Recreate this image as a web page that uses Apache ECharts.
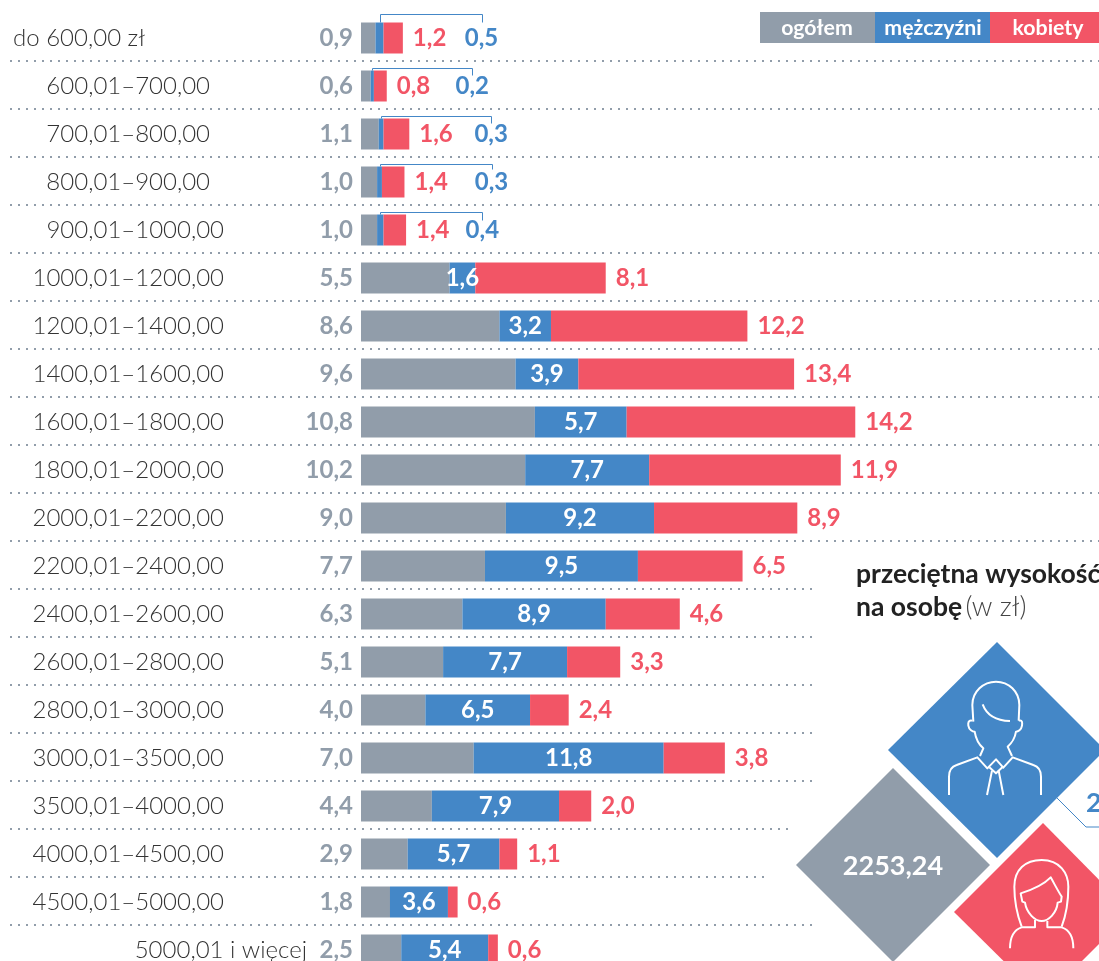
<!DOCTYPE html>
<html><head><meta charset="utf-8">
<style>html,body{margin:0;padding:0;background:#fff;overflow:hidden}#c{width:1099px;height:961px}</style>
<script src="https://cdn.jsdelivr.net/npm/echarts@6/dist/echarts.min.js"></script>
</head><body><div id="c"></div>
<script>
const categories = ['do 600,00 zł','600,01–700,00','700,01–800,00','800,01–900,00','900,01–1000,00','1000,01–1200,00','1200,01–1400,00','1400,01–1600,00','1600,01–1800,00','1800,01–2000,00','2000,01–2200,00','2200,01–2400,00','2400,01–2600,00','2600,01–2800,00','2800,01–3000,00','3000,01–3500,00','3500,01–4000,00','4000,01–4500,00','4500,01–5000,00','5000,01 i więcej'];
const ogolem = [0.9,0.6,1.1,1.0,1.0,5.5,8.6,9.6,10.8,10.2,9.0,7.7,6.3,5.1,4.0,7.0,4.4,2.9,1.8,2.5];
const mezczyzni = [0.5,0.2,0.3,0.3,0.4,1.6,3.2,3.9,5.7,7.7,9.2,9.5,8.9,7.7,6.5,11.8,7.9,5.7,3.6,5.4];
const kobiety = [1.2,0.8,1.6,1.4,1.4,8.1,12.2,13.4,14.2,11.9,8.9,6.5,4.6,3.3,2.4,3.8,2.0,1.1,0.6,0.6];
const legendNames = ['ogółem','mężczyźni','kobiety'];
const averageTotal = '2253,24';
const averageMenVisible = '2';

const GRAY='#919daa', BLUE='#4487c7', RED='#f25566', FONT='Lato';
// layout, separate from the data
const labelInset = i => i===0 ? 162 : (i>=1&&i<=3) ? 97 : i===19 ? 0 : 83;
const sepEnd = i => i<=10 ? 1099 : i<=15 ? 817 : i===16 ? 792 : i===17 ? 767 : 817;
const calloutShift = [102,100,110,112,102];
const calloutRise = [9,3,3,3,3];
const calloutDrop = [0,5,5,3,6];

const fmt = v => v.toFixed(1).replace('.',',');
const valueLabel = (color, pos, dist) => ({show:true, position:pos, distance:dist, color, fontFamily:FONT, fontWeight:700, fontSize:24,
  formatter:p=>fmt(p.value)});

const richLabels = {};
categories.forEach((c,i)=>{ richLabels['r'+i]={fontFamily:FONT,fontWeight:300,fontSize:24,color:'#333',padding:[0,labelInset(i),0,0]}; });

const manPaths = [
 'M100,125 L97,75 C97,35 130,5 168,5 C206,5 238,35 238,75 L236,122',
 'M128,73 C140,105 170,122 210,123',
 'M97,122 C85,118 84,130 85,137 C87,150 98,155 104,155 C108,180 118,195 130,205 L120,228',
 'M236,122 C248,118 247,130 246,137 C244,150 234,155 228,155 C224,180 214,190 203,200 L216,228',
 'M27,345 L27,290 C27,265 40,258 50,255 L112,232 L142,265 L168,238 L190,263 L218,232 L280,255 C290,258 303,265 303,290 L303,345',
 'M148,262 L168,280 L187,262',
 'M156,272 L141,345 M176,272 L190,345'
];
const womanPaths = [
 'M95,230 C80,190 73,150 73,110 C73,60 105,30 155,30 C210,30 235,70 235,110 C235,150 230,190 215,230',
 'M92,130 C130,118 160,105 182,82 C195,105 205,125 215,140 L213,155 L203,158 C200,190 175,213 155,213 C135,213 110,190 105,158 L97,155 Z',
 'M135,210 L135,232 L95,232 C70,240 60,260 60,295',
 'M172,213 L172,232 L215,232 C240,240 250,260 250,295'
];
const iconPath = (d,ox,oy)=>({type:'path',x:ox,y:oy,scaleX:1/3,scaleY:1/3,
  shape:{pathData:d},style:{fill:null,stroke:'#fff',lineWidth:6,lineCap:'butt',lineJoin:'round'}});
const diamond = (pts,fill)=>({type:'polygon',shape:{points:pts},style:{fill}});

const txt = (x,y,text,fontSize,fill,weight,align)=>({type:'text',x,y,z:100,style:{text,fill,fontFamily:FONT,fontWeight:weight||700,fontSize,textAlign:align||'center',textVerticalAlign:'middle'}});

const chart = echarts.init(document.getElementById('c'),null,{renderer:'canvas'});
chart.setOption({
  animation:false,
  backgroundColor:'#fff',
  grid:{left:361,top:14,width:644,height:960,containLabel:false,outerBoundsMode:'none'},
  xAxis:{type:'value',min:0,max:40,show:false},
  yAxis:{type:'category',inverse:true,data:categories,
    axisLine:{show:false},axisTick:{show:false},splitLine:{show:false},
    axisLabel:{interval:0,margin:54,align:'right',rich:richLabels,
      formatter:(v,i)=>'{r'+i+'|'+v+'}'}},
  series:[
    {name:'separators',type:'custom',z:1,silent:true,clip:false,
      data:categories.slice(0,-1).map((c,i)=>[0,i]),
      renderItem:(p,api)=>{const i=api.value(1);const c=api.coord([0,i]);const h=api.size([0,1])[1];const y=c[1]+h/2-1;
        return {type:'line',shape:{x1:10,y1:y,x2:sepEnd(i),y2:y},style:{stroke:GRAY,lineWidth:2,lineDash:[2,6]}};}},
    {name:legendNames[0],type:'bar',stack:'t',barWidth:31,data:ogolem,itemStyle:{color:GRAY},
      label:valueLabel(GRAY,'left',8)},
    {name:legendNames[1],type:'bar',stack:'t',barWidth:31,itemStyle:{color:BLUE},
      label:valueLabel('#fff','inside',0),
      data:mezczyzni.map((v,i)=>i<5?{value:v,label:{color:BLUE,offset:[calloutShift[i],0]}}:v)},
    {name:legendNames[2],type:'bar',stack:'t',barWidth:31,data:kobiety,itemStyle:{color:RED},
      label:valueLabel(RED,'right',10)},
    {name:'callouts',type:'custom',z:5,silent:true,clip:false,
      data:calloutShift.map((s,i)=>[ogolem[i]+mezczyzni[i]/2,i]),
      renderItem:(p,api)=>{const i=api.value(1);const c=api.coord([api.value(0),i]);
        const x=Math.round(c[0])+.5, top=c[1]-15.5, y=Math.round(top-calloutRise[i])+.5, xe=Math.round(c[0]+calloutShift[i])+.5;
        return {type:'polyline',shape:{points:[[x,top],[x,y],[xe,y],[xe,top+calloutDrop[i]]]},style:{fill:null,stroke:BLUE,lineWidth:1}};}},
    {name:'panel',type:'custom',coordinateSystem:'none',z:50,silent:true,clip:false,data:[[0]],
      renderItem:()=>({type:'group',children:[
        diamond([[997,642],[1105,750],[997,858],[888,750]],BLUE),
        diamond([[893,768],[990,865],[893,962],[796,865]],GRAY),
        diamond([[1043,823],[1131,912],[1043,1000],[954,912]],RED),
        {type:'polyline',shape:{points:[[1057,798],[1086,827],[1099,827]]},style:{fill:null,stroke:BLUE,lineWidth:1}},
        ...manPaths.map(d=>iconPath(d,940,680)),
        ...womanPaths.map(d=>iconPath(d,990,850))
      ]})}
  ],
  graphic:{elements:[
    {type:'rect',z:90,shape:{x:760,y:12,width:115,height:31},style:{fill:GRAY}},
    {type:'rect',z:90,shape:{x:875,y:12,width:115,height:31},style:{fill:BLUE}},
    {type:'rect',z:90,shape:{x:990,y:12,width:109,height:31},style:{fill:RED}},
    txt(817,28,legendNames[0],21.3,'#fff'),
    txt(933,28,legendNames[1],21.3,'#fff'),
    txt(1048,28,legendNames[2],21.3,'#fff'),
    txt(856,574,'przeciętna wysokość',26.5,'#222',700,'left'),
    {type:'text',x:856,y:607,z:100,style:{text:'{b|na osobę} {l|(w zł)}',textVerticalAlign:'middle',textAlign:'left',
      rich:{b:{fontFamily:FONT,fontWeight:700,fontSize:26.5,fill:'#222',color:'#222'},l:{fontFamily:FONT,fontWeight:300,fontSize:27,fill:'#444',color:'#444'}}}},
    txt(893,866,averageTotal,27,'#fff'),
    txt(1086,803,averageMenVisible,27,BLUE,700,'left')
  ]}
});
</script></body></html>
